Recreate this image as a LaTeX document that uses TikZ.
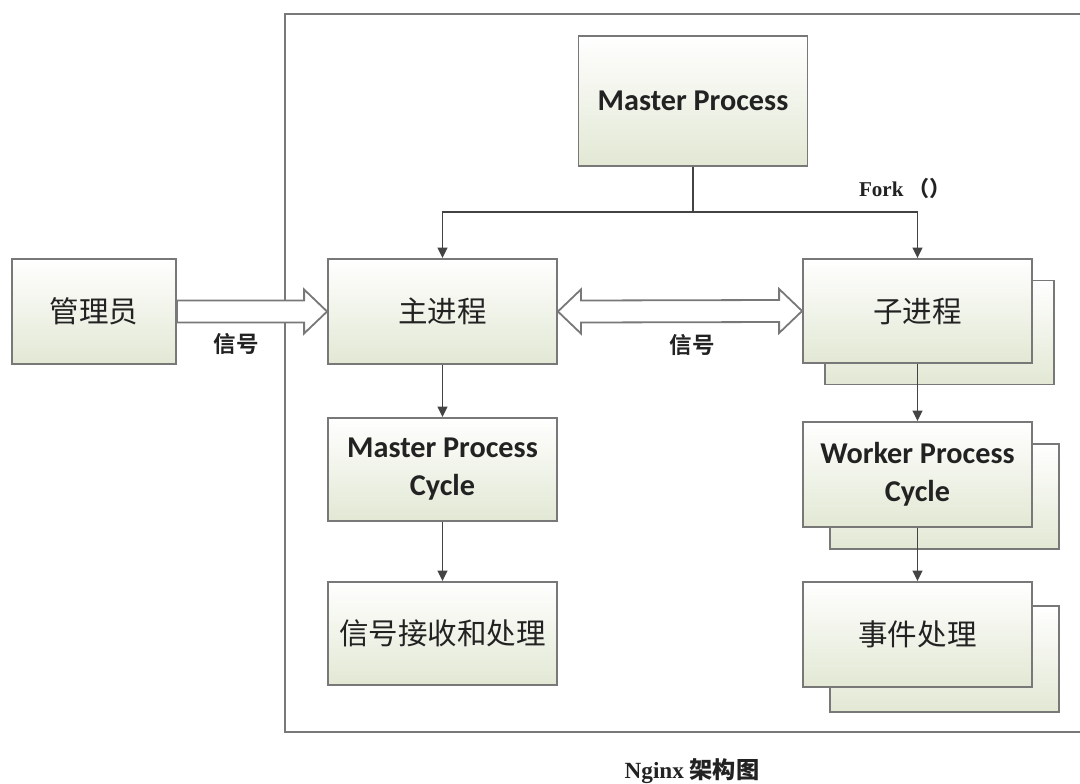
\documentclass[tikz,border=0pt]{standalone}
\usepackage{fontspec}
\setmainfont{Liberation Serif}
\newfontfamily\carl{Carlito}
\newfontfamily\cjk{Noto Sans CJK SC}
\newfontfamily\cjkb{Noto Sans CJK SC Bold}
\usetikzlibrary{calc,arrows.meta}
\definecolor{boxgray}{RGB}{120,120,120}
\definecolor{boxgreen}{RGB}{226,232,212}
\definecolor{txtgray}{RGB}{34,34,34}
\tikzset{
	box/.style={draw=boxgray, line width=0.45mm, top color=white, bottom color=boxgreen, inner sep=0pt, align=center, text=txtgray, minimum width=57.25mm},
	latinbox/.style={box, font=\carl\bfseries\fontsize{21.5}{27}\selectfont},
	cnbox/.style={box, font=\cjk\fontsize{21}{24}\selectfont},
	link/.style={draw=txtgray!85, line width=0.45mm},
	arr/.style={link, -{Triangle[length=2.6mm,width=2.4mm]}},
	hollow/.style={draw=boxgray, line width=0.45mm, fill=white, line join=miter},
	lbl/.style={text=txtgray, font=\cjkb\fontsize{16}{18}\selectfont}
}
\begin{document}
\begin{tikzpicture}[x=0.25mm,y=-0.25mm]
		%%%%% START %%%%%
		\useasboundingbox (0, 0) rectangle (1080, 784);
		
		\draw[boxgray, line width=0.5mm] (285, 14) rectangle (1095, 732);
		
		% stacked boxes behind
		\node[cnbox, minimum height=26mm] (childbk) at (939.5, 332.5) {};
		\node[cnbox, minimum height=26.25mm] (wpcbk) at (944.5, 496.5) {};
		\node[cnbox, minimum height=26.5mm] (evtbk) at (944.5, 659) {};
		
		\node[latinbox, minimum height=32.5mm] (master) at (693, 101) {Master Process};
		\node[cnbox, minimum width=41mm, minimum height=26.25mm] (admin) at (94, 311.5) {管理员};
		\node[cnbox, minimum height=26.25mm] (mainp) at (442.5, 311.5) {主进程};
		\node[cnbox, minimum height=26mm] (child) at (917.5, 311) {子进程};
		\node[latinbox, minimum height=25.75mm] (mcycle) at (442.5, 469.5) {Master Process\\Cycle};
		\node[cnbox, minimum height=25.75mm] (sigproc) at (442.5, 633.5) {信号接收和处理};
		\node[latinbox, minimum height=26.25mm] (wcycle) at (917.5, 474.5) {Worker Process\\Cycle};
		\node[cnbox, minimum height=26.25mm] (events) at (917.5, 634.5) {事件处理};
		
		% fork
		\coordinate (fork) at (693, 212);
		\draw[link] (master.south) -- (fork);
		\draw[arr] (fork) -| (mainp.north);
		\draw[arr] (fork) -| (child.north);
		\node[text=txtgray, font=\bfseries\fontsize{15}{17}\selectfont, anchor=center] (forklbl) at (905, 188) {Fork {\cjk （）}};
		
		\draw[arr] (mainp.south) -- (mcycle.north);
		\draw[arr] (mcycle.south) -- (sigproc.north);
		\draw[arr] (child.south) -- (wcycle.north);
		\draw[arr] (wcycle.south) -- (events.north);
		
		% signal arrows
		\draw[hollow] ($(admin.east)+(0,-11)$) -- ($(mainp.west)+(-23,-11)$) -- ($(mainp.west)+(-23,-22)$) -- (mainp.west)
			-- ($(mainp.west)+(-23,22)$) -- ($(mainp.west)+(-23,11)$) -- ($(admin.east)+(0,11)$) -- cycle;
		\draw[hollow] (mainp.east) -- ($(mainp.east)+(23,-22)$) -- ($(mainp.east)+(23,-11)$) -- ($(child.west)+(-23,-11)$)
			-- ($(child.west)+(-23,-22)$) -- (child.west) -- ($(child.west)+(-23,22)$) -- ($(child.west)+(-23,11)$)
			-- ($(mainp.east)+(23,11)$) -- ($(mainp.east)+(23,22)$) -- cycle;
		\node[lbl] (sigleft) at (236, 344) {信号};
		\node[lbl] (sigmid) at (692, 345) {信号};
		
		\node[text=txtgray, font=\bfseries\fontsize{16.5}{18}\selectfont] (caption) at (692, 771) {Nginx {\cjkb 架构图}};
		
		%%%%% END %%%%%
	\end{tikzpicture}
\end{document}
